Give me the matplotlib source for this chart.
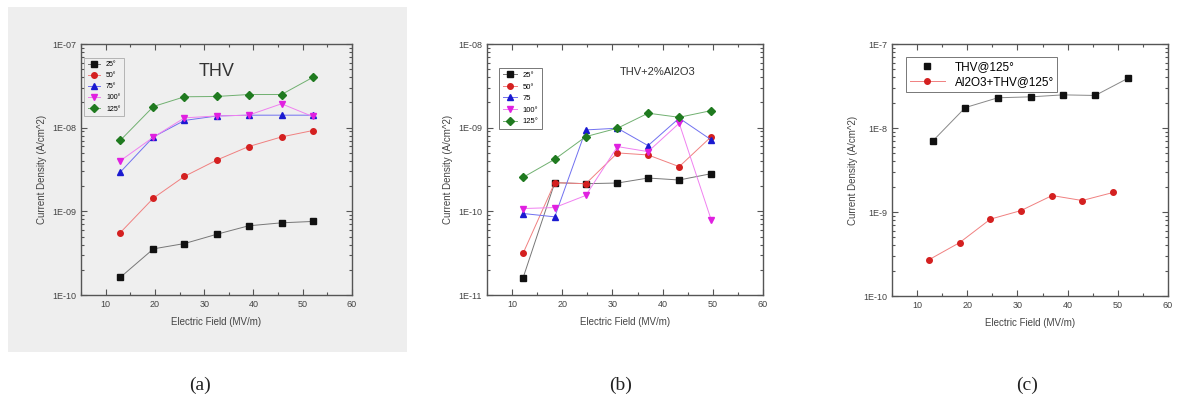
import numpy as np
import matplotlib
matplotlib.use("Agg")
import matplotlib.pyplot as plt
from matplotlib.patches import Rectangle
from matplotlib.ticker import LogLocator, MultipleLocator, FuncFormatter, NullFormatter

plt.rcParams["font.family"] = ["Liberation Sans", "DejaVu Sans"]

# ── Data ─────────────────────────────────────────────────────────────────────
temps_a = ["25°", "50°", "75°", "100°", "125°"]
temps_b = ["25°", "50°", "75", "100°", "125°"]

field_a = [13.0, 19.7, 26.0, 32.6, 39.0, 45.7, 52.0]
j_a_25 = [1.63e-10, 3.56e-10, 4.12e-10, 5.33e-10, 6.71e-10, 7.29e-10, 7.57e-10]
j_a_50 = [5.58e-10, 1.44e-9, 2.62e-9, 4.11e-9, 5.94e-9, 7.75e-9, 9.23e-9]
j_a_75 = [2.95e-9, 7.75e-9, 1.22e-8, 1.38e-8, 1.41e-8, 1.41e-8, 1.41e-8]
j_a_100 = [4.03e-9, 7.70e-9, 1.31e-8, 1.38e-8, 1.41e-8, 1.93e-8, 1.36e-8]
j_a_125 = [7.07e-9, 1.79e-8, 2.34e-8, 2.36e-8, 2.49e-8, 2.49e-8, 3.98e-8]

field_b = [12.2, 18.5, 24.7, 31.0, 37.1, 43.3, 49.7]
j_b_25 = [1.61e-11, 2.20e-10, 2.14e-10, 2.18e-10, 2.50e-10, 2.37e-10, 2.82e-10]
j_b_50 = [3.16e-11, 2.20e-10, 2.14e-10, 4.99e-10, 4.72e-10, 3.42e-10, 7.82e-10]
j_b_75 = [9.42e-11, 8.59e-11, 9.40e-10, 9.85e-10, 6.10e-10, 1.30e-9, 7.14e-10]
j_b_100 = [1.08e-10, 1.11e-10, 1.55e-10, 5.94e-10, 5.17e-10, 1.13e-9, 7.84e-11]
j_b_125 = [2.55e-10, 4.19e-10, 7.82e-10, 9.85e-10, 1.49e-9, 1.33e-9, 1.60e-9]

field_c_thv = [13.2, 19.6, 26.1, 32.7, 39.1, 45.5, 52.1]
j_c_thv = [7.08e-9, 1.75e-8, 2.29e-8, 2.35e-8, 2.48e-8, 2.44e-8, 3.93e-8]
field_c_al = [12.4, 18.5, 24.6, 30.7, 36.9, 42.9, 49.1]
j_c_al = [2.71e-10, 4.33e-10, 8.22e-10, 1.04e-9, 1.57e-9, 1.37e-9, 1.71e-9]
labels_c = ["THV@125°", "Al2O3+THV@125°"]

# ── Styles ───────────────────────────────────────────────────────────────────
MARKERS = ["s", "o", "^", "v", "D"]
COLORS = ["#111111", "#d42020", "#1a1ad0", "#e020e0", "#1f7a1f"]
LINECOLORS = ["#777777", "#f08080", "#7070f0", "#f080f0", "#70b070"]
TXT = "#444444"

W, H = 1204, 411
fig = plt.figure(figsize=(W / 100, H / 100), dpi=100)


def rect(l, r, t, b):
    return [l / W, 1 - b / H, (r - l) / W, (b - t) / H]


# grey scanned background behind panel (a)
fig.patches.append(Rectangle((8 / W, 1 - 352 / H), 399 / W, 345 / H,
                             transform=fig.transFigure, facecolor="#eeeeee",
                             edgecolor="none", zorder=-5))


def style_axes(ax, ymin, ymax, yfmt):
    ax.set_yscale("log")
    ax.set_xlim(5, 60)
    ax.set_ylim(ymin, ymax)
    ax.xaxis.set_major_locator(MultipleLocator(10))
    ax.xaxis.set_minor_locator(MultipleLocator(5))
    ax.yaxis.set_major_locator(LogLocator(base=10, numticks=10))
    ax.yaxis.set_minor_locator(LogLocator(base=10, subs=np.arange(2, 10), numticks=10))
    ax.yaxis.set_minor_formatter(NullFormatter())
    ax.yaxis.set_major_formatter(FuncFormatter(yfmt))
    ax.tick_params(which="both", direction="in", top=True, right=True,
                   colors="#555555", labelcolor=TXT, labelsize=6.5, width=0.8)
    ax.tick_params(which="major", length=4)
    ax.tick_params(which="minor", length=2)
    for s in ax.spines.values():
        s.set_linewidth(1.0)
        s.set_color("#555555")
    ax.set_xlabel("Electric Field (MV/m)", fontsize=7, color=TXT, labelpad=6)
    ax.set_ylabel("Current Density (A/cm^2)", fontsize=7, color=TXT, labelpad=4)


fmt2 = lambda v, p: "1E-%02d" % round(-np.log10(v))
fmt1 = lambda v, p: "1E-%d" % round(-np.log10(v))

# ── Panel (a) ────────────────────────────────────────────────────────────────
ax1 = fig.add_axes(rect(81, 352, 44, 295))
ax1.set_facecolor("#efefef")
series_a = [j_a_25, j_a_50, j_a_75, j_a_100, j_a_125]
for i, ys in enumerate(series_a):
    ax1.plot(field_a, ys, color=LINECOLORS[i], lw=0.7, marker=MARKERS[i],
             ms=4, mfc=COLORS[i], mec=COLORS[i], label=temps_a[i])
style_axes(ax1, 1e-10, 1e-7, fmt2)
leg = ax1.legend(loc="upper left", fontsize=5, frameon=True, fancybox=False,
                 handlelength=1.8, borderpad=0.5, labelspacing=0.6,
                 bbox_to_anchor=(0.0, 0.96))
leg.get_frame().set_edgecolor("#999999")
leg.get_frame().set_linewidth(0.6)
leg.get_frame().set_facecolor("#efefef")
ax1.text(0.50, 0.89, "THV", transform=ax1.transAxes, fontsize=13,
         color="#333333", ha="center", va="center")

# ── Panel (b) ────────────────────────────────────────────────────────────────
ax2 = fig.add_axes(rect(487, 763, 44, 295))
series_b = [j_b_25, j_b_50, j_b_75, j_b_100, j_b_125]
for i, ys in enumerate(series_b):
    ax2.plot(field_b, ys, color=LINECOLORS[i], lw=0.7, marker=MARKERS[i],
             ms=4, mfc=COLORS[i], mec=COLORS[i], label=temps_b[i])
style_axes(ax2, 1e-11, 1e-8, fmt2)
leg = ax2.legend(loc="upper left", fontsize=5.5, frameon=True, fancybox=False,
                 handlelength=1.8, borderpad=0.5, labelspacing=0.55,
                 bbox_to_anchor=(0.03, 0.92))
leg.get_frame().set_edgecolor("#555555")
leg.get_frame().set_linewidth(0.7)
ax2.text(0.62, 0.89, "THV+2%Al2O3", transform=ax2.transAxes, fontsize=8,
         color="#333333", ha="center", va="center")

# ── Panel (c) ────────────────────────────────────────────────────────────────
ax3 = fig.add_axes(rect(892, 1168, 44, 296))
ax3.plot(field_c_thv, j_c_thv, color="#888888", lw=0.7, marker="s", ms=4,
         mfc=COLORS[0], mec=COLORS[0], label=labels_c[0])
ax3.plot(field_c_al, j_c_al, color=LINECOLORS[1], lw=0.7, marker="o", ms=4,
         mfc=COLORS[1], mec=COLORS[1], label=labels_c[1])
style_axes(ax3, 1e-10, 1e-7, fmt1)
leg = ax3.legend(loc="upper left", fontsize=8.5, frameon=True, fancybox=False,
                 handlelength=3.0, borderpad=0.3, labelspacing=0.3,
                 bbox_to_anchor=(0.03, 0.97))
leg.get_frame().set_edgecolor("#555555")
leg.get_frame().set_linewidth(0.7)
leg.legend_handles[0].set_linestyle("none")

# ── Sub-figure captions ──────────────────────────────────────────────────────
for xpix, lab in [(200, "(a)"), (621, "(b)"), (1027, "(c)")]:
    fig.text(xpix / W, 1 - 385 / H, lab, fontsize=14, ha="center", va="center",
             family=["Liberation Serif", "DejaVu Serif"], color="#222222")

fig.savefig("out.png", dpi=100)
